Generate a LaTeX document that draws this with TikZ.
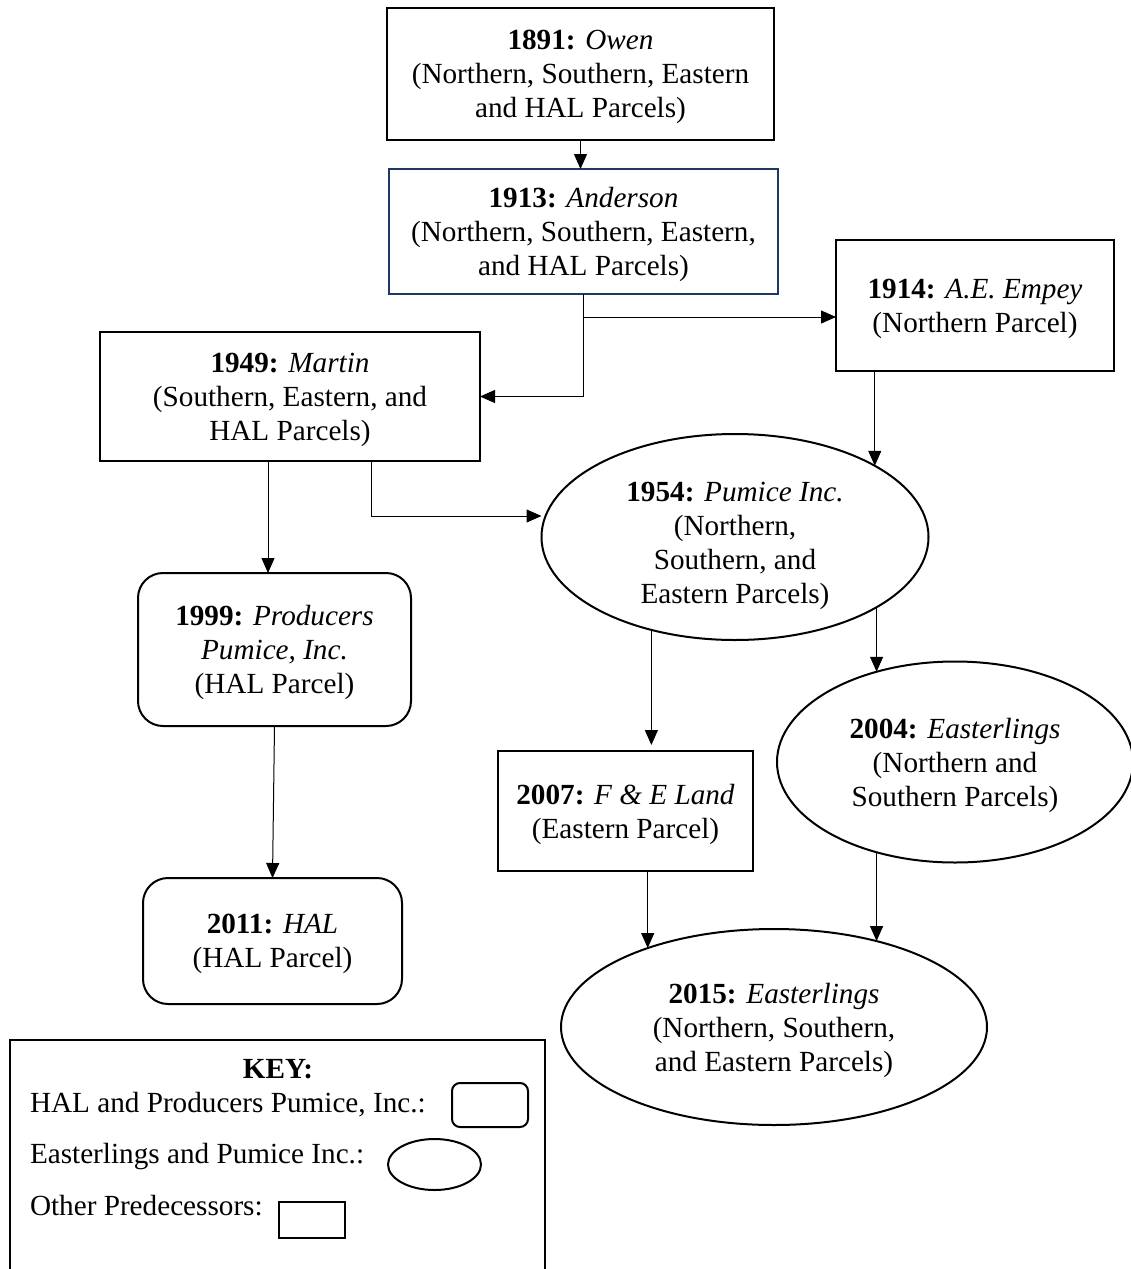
\documentclass[tikz,border=0pt]{standalone}
\usepackage{fontspec}
\setmainfont{Liberation Serif}
\usetikzlibrary{arrows.meta,shapes.geometric}
\definecolor{navyline}{RGB}{32,56,100}

\begin{document}
\begin{tikzpicture}[x=0.5pt,y=-0.5pt,
                every node/.style = {font=\fontsize{14.6}{17}\selectfont, align=center, inner sep=0pt, outer sep=0pt, text depth=0pt},
                main/.style = {draw, rectangle, line width=1pt},
                rbox/.style = {main, rounded corners=12.5pt},
                oval/.style = {draw, ellipse, line width=1pt},
                arr/.style = {-{Triangle[length=7.5pt,width=6.5pt]}, line width=0.5pt}]
                \useasboundingbox (0,0) rectangle (1130,1269);
                \node[main, minimum width=193.5pt, minimum height=66pt] (1891) at (580.5,74)
                    {\textbf{1891:} \textit{Owen}\\(Northern, Southern, Eastern\\and HAL Parcels)};
                \node[main, draw=navyline, minimum width=194.5pt, minimum height=62.5pt] (1913) at (583.5,231.5)
                    {\textbf{1913:} \textit{Anderson}\\(Northern, Southern, Eastern,\\and HAL Parcels)};
                \node[main, minimum width=139pt, minimum height=65.5pt] (1914) at (975,305.5)
                    {\textbf{1914:} \textit{A.E. Empey}\\(Northern Parcel)};
                \node[main, minimum width=190pt, minimum height=64.5pt] (1949) at (290,396.5)
                    {\textbf{1949:} \textit{Martin}\\(Southern, Eastern, and\\HAL Parcels)};
                \node[oval, minimum width=193.5pt, minimum height=103pt] (1954) at (735,537)
                    {\rule{0pt}{15.5pt}\textbf{1954:} \textit{Pumice Inc.}\\(Northern,\\Southern, and\\Eastern Parcels)};
                \node[rbox, minimum width=136.5pt, minimum height=76.5pt] (1999) at (274.5,649.5)
                    {\textbf{1999:} \textit{Producers}\\\textit{Pumice, Inc.}\\(HAL Parcel)};
                \node[rbox, minimum width=129.5pt, minimum height=63pt] (2011) at (272.5,941)
                    {\textbf{2011:} \textit{HAL}\\(HAL Parcel)};
                \node[main, minimum width=127.5pt, minimum height=60pt] (2007) at (625.5,811)
                    {\textbf{2007:} \textit{F \& E Land}\\(Eastern Parcel)};
                \node[oval, minimum width=178pt, minimum height=100.5pt] (2004) at (955,762)
                    {\textbf{2004:} \textit{Easterlings}\\(Northern and\\Southern Parcels)};
                \node[oval, minimum width=213pt, minimum height=98pt] (2015) at (774,1027)
                    {\textbf{2015:} \textit{Easterlings}\\(Northern, Southern,\\and Eastern Parcels)};

                \path[arr]
                    (1891.south) edge (1891.south |- 1913.north)
                    ([xshift=-11pt]1949.south) edge ([xshift=-3.25pt]1999.north)
                    (1999.south) edge (2011.north)
                    (1954.27 |- 1914.south) edge (1954.27)
                    (2004.131 |- 1954.333) edge (2004.131)
                    (2004.229) edge (2004.229 |- 2015.40)
                    (2015.148 |- 2007.south) edge (2015.148);
                \draw[arr, shorten >=3pt] (1954.228) -- (1954.228 |- 2007.north);
                \draw[arr] (1913.south) |- ([yshift=-5.75pt]1914.west);
                \draw[arr] (1913.south) |- (1949.east);
                \draw[arr] ([xshift=40.5pt]1949.south) |- ([yshift=10.5pt]1954.west);

                \node[main, minimum width=267.5pt, minimum height=120pt] (key) at (277.5,1160) {};
                \node (keytitle) at (278,1069) {\bfseries KEY:};
                \node[anchor=west] (keyhal) at (30,1102) {HAL and Producers Pumice, Inc.:};
                \node[main, rounded corners=4pt, minimum width=38pt, minimum height=22pt] (samplehal) at (490,1105) {};
                \node[anchor=west] (keyeast) at (30,1153) {Easterlings and Pumice Inc.:};
                \node[oval, minimum width=46.5pt, minimum height=25.5pt] (sampleeast) at (434.5,1164.5) {};
                \node[anchor=west] (keyother) at (30,1205) {Other Predecessors:};
                \node[main, minimum width=33pt, minimum height=18pt] (sampleother) at (312,1220) {};
            \end{tikzpicture}
\end{document}
